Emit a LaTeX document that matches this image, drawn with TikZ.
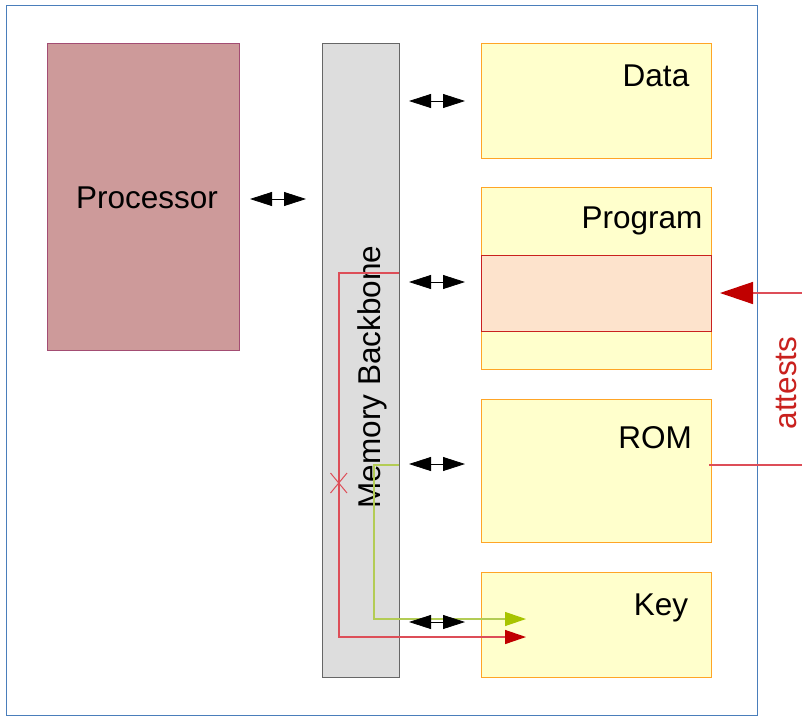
\documentclass[tikz,border=0pt]{standalone}
\usepackage{fontspec}
\setmainfont{Liberation Sans}
\usetikzlibrary{arrows.meta}
\definecolor{frameblue}{HTML}{4A7EBB}
\definecolor{procfill}{HTML}{CD9A9A}
\definecolor{procdraw}{HTML}{A34D73}
\definecolor{bbfill}{HTML}{DDDDDD}
\definecolor{bbdraw}{HTML}{666666}
\definecolor{boxfill}{HTML}{FFFFCC}
\definecolor{boxdraw}{HTML}{FFA526}
\definecolor{pinkfill}{HTML}{FDE3CC}
\definecolor{darkred}{HTML}{C9211E}
\definecolor{linered}{HTML}{DD4E58}
\definecolor{headred}{HTML}{C00000}
\definecolor{linegreen}{HTML}{B3CC55}
\definecolor{headgreen}{HTML}{A8C400}
\begin{document}
\begin{tikzpicture}[x=1pt,y=-1pt,
  blk/.style={draw, line width=0.9pt, anchor=north west, inner sep=0pt},
  membox/.style={blk, draw=boxdraw, fill=boxfill, minimum width=230pt},
  lbl/.style={font=\fontsize{31.5}{36}\selectfont, anchor=base, inner sep=0pt},
  dbl/.style={{Triangle[length=22pt,width=14pt]}-{Triangle[length=22pt,width=14pt]}, line width=0.8pt, black},
  redln/.style={draw=linered, line width=1.4pt},
  greenln/.style={draw=linegreen, line width=1.2pt}
]
\useasboundingbox (0,0) rectangle (802,716);
% frame
\node[blk, draw=frameblue, minimum width=751pt, minimum height=710pt] (frame) at (6,5) {};
% processor
\node[blk, draw=procdraw, fill=procfill, minimum width=192pt, minimum height=307pt] (proc) at (47,43) {};
\node[lbl] (proct) at (147,208) {Processor};
% backbone
\node[blk, draw=bbdraw, fill=bbfill, minimum width=77pt, minimum height=634pt] (bb) at (322,43) {};
\node[lbl, rotate=90] (bbt) at (380,377) {Memory Backbone};
% memory boxes
\node[membox, minimum height=115pt] (data) at (481,43) {};
\node[lbl] (datat) at (656,86) {Data};
\node[membox, minimum height=182pt] (prog) at (481,187) {};
\node[lbl] (progt) at (642,228) {Program};
\node[blk, draw=darkred, fill=pinkfill, minimum width=230pt, minimum height=76pt] (pink) at (481,255) {};
\node[membox, minimum height=143pt] (rom) at (481,399) {};
\node[lbl] (romt) at (655,448) {ROM};
\node[membox, minimum height=105pt] (key) at (481,572) {};
\node[lbl] (keyt) at (661,615) {Key};
% red path
\coordinate (r0) at (399,273);
\coordinate (r1) at (339,637);
\coordinate (r2) at (526,637);
\draw[redln, -{Triangle[length=21pt,width=14pt,color=headred]}] (r0) -| (r1) -- (r2);
% red cross
\coordinate (x1) at (330.5,473);
\coordinate (x2) at (347,493);
\coordinate (x3) at (330.5,493);
\coordinate (x4) at (347,473);
\draw[draw=linered, line width=1pt] (x1) -- (x2) (x3) -- (x4);
% green path
\coordinate (g0) at (399,465);
\coordinate (g1) at (374,619);
\coordinate (g2) at (526,619);
\draw[greenln, -{Triangle[length=21pt,width=14pt,color=headgreen]}] (g0) -| (g1) -- (g2);
% attests
\coordinate (att0) at (802,293);
\coordinate (att1) at (720,293);
\draw[redln, -{Triangle[length=33pt,width=22pt,color=headred]}] (att0) -- (att1);
\coordinate (rl0) at (709,465);
\coordinate (rl1) at (802,465);
\draw[redln] (rl0) -- (rl1);
\node[lbl, rotate=90, text=darkred] (attt) at (796,383) {attests};
% double arrows
\coordinate (a1l) at (250,199); \coordinate (a1r) at (306,199);
\coordinate (a2l) at (409,101); \coordinate (a2r) at (465,101);
\coordinate (a3l) at (409,282); \coordinate (a3r) at (465,282);
\coordinate (a4l) at (409,464); \coordinate (a4r) at (465,464);
\coordinate (a5l) at (409,622); \coordinate (a5r) at (465,622);
\draw[dbl] (a1l) -- (a1r);
\draw[dbl] (a2l) -- (a2r);
\draw[dbl] (a3l) -- (a3r);
\draw[dbl] (a4l) -- (a4r);
\draw[dbl] (a5l) -- (a5r);
\end{tikzpicture}
\end{document}
